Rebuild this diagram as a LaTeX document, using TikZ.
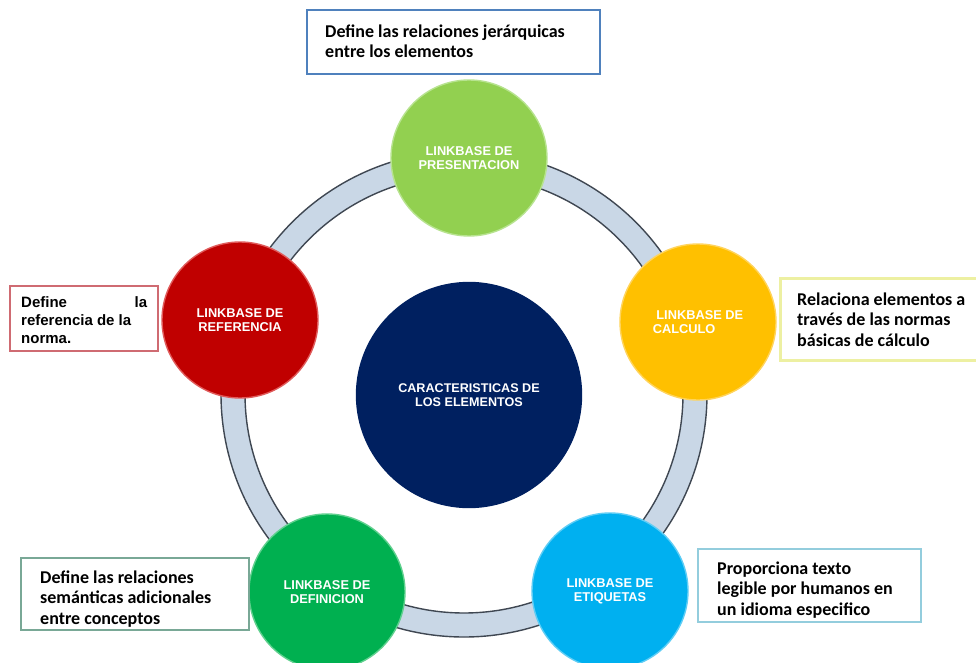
\documentclass[tikz,border=0pt]{standalone}
\usepackage{fontspec}
\setmainfont{Liberation Sans}
\newfontfamily\calib{Carlito}
\definecolor{ringfill}{HTML}{C9D7E6}
\definecolor{ringline}{HTML}{3F4752}
\definecolor{cPres}{HTML}{92D050}
\definecolor{cPresB}{HTML}{B7E38F}
\definecolor{cCalc}{HTML}{FFC000}
\definecolor{cCalcB}{HTML}{FFD45C}
\definecolor{cRef}{HTML}{C00000}
\definecolor{cRefB}{HTML}{E05A5A}
\definecolor{cDef}{HTML}{00B050}
\definecolor{cDefB}{HTML}{5FD08E}
\definecolor{cEti}{HTML}{00B0F0}
\definecolor{cEtiB}{HTML}{5ECDF5}
\definecolor{cNavy}{HTML}{002060}
\definecolor{bTop}{HTML}{4F81BD}
\definecolor{bLeft}{HTML}{CF6B72}
\definecolor{bRight}{HTML}{EDF0A2}
\definecolor{bBL}{HTML}{79A896}
\definecolor{bBR}{HTML}{93CDDD}
\begin{document}
\begin{tikzpicture}[x=1pt,y=-1pt,
  bub/.style={circle, minimum size=156pt, inner sep=0pt, line width=1.4pt,
    text=white, align=center, font=\bfseries\fontsize{12.8}{14}\selectfont},
  descbox/.style={draw, line width=2pt, anchor=north west, inner sep=0pt},
  desctext/.style={anchor=base west, inner sep=0pt, align=left,
    font=\calib\bfseries\fontsize{18}{20.5}\selectfont}]
\useasboundingbox (0,0) rectangle (976,663);
\fill[white] (0,0) rectangle (976,663);
% ring
\coordinate (rc) at (464,394);
\fill[ringfill, even odd rule] (rc) circle[radius=243pt] (rc) circle[radius=219pt];
\draw[ringline, line width=1.4pt] (rc) circle[radius=243pt] (rc) circle[radius=219pt];
% circles
\node[bub, fill=cNavy, draw=cNavy, minimum size=225pt, font=\bfseries\fontsize{12.6}{14}\selectfont] (center) at (469,395)
  {CARACTERISTICAS DE\\LOS ELEMENTOS};
\node[bub, fill=cPres, draw=cPresB] (pres) at (469,158) {LINKBASE DE\\PRESENTACION};
\node[bub, fill=cCalc, draw=cCalcB, align=left] (calc) at (698,322) {\ LINKBASE DE\\CALCULO};
\node[bub, fill=cRef, draw=cRefB] (ref) at (240,320) {LINKBASE DE\\REFERENCIA};
\node[bub, fill=cDef, draw=cDefB] (def) at (327,592) {LINKBASE DE\\DEFINICION};
\node[bub, fill=cEti, draw=cEtiB] (eti) at (610,591) {LINKBASE DE\\ETIQUETAS};
% description boxes
\node[descbox, draw=bTop, minimum width=293pt, minimum height=64pt] (boxtop) at (306,9) {};
\node[desctext] (txttop) at (325,58) {Define las relaciones jerárquicas\\entre los elementos};
\node[descbox, draw=bLeft, minimum width=148pt, minimum height=65pt] (boxleft) at (9,285) {};
\node[anchor=base west, inner sep=0pt, align=left,
  font=\bfseries\fontsize{15}{18}\selectfont] (txtleft) at (21,343)
  {\makebox[126pt]{Define\hfill la}\\referencia de la\\norma.};
\node[descbox, draw=bRight, line width=2.5pt, minimum width=200pt, minimum height=82pt] (boxright) at (779,277) {};
\node[desctext] (txtright) at (797,346) {Relaciona elementos a\\través de las normas\\básicas de cálculo};
\node[descbox, draw=bBL, minimum width=228pt, minimum height=72pt] (boxbl) at (20,557) {};
\node[desctext] (txtbl) at (40,624) {Define las relaciones\\semánticas adicionales\\entre conceptos};
\node[descbox, draw=bBR, minimum width=223pt, minimum height=73pt] (boxbr) at (697,548) {};
\node[desctext] (txtbr) at (717,615) {Proporciona texto\\legible por humanos en\\un idioma especifico};
\end{tikzpicture}
\end{document}
